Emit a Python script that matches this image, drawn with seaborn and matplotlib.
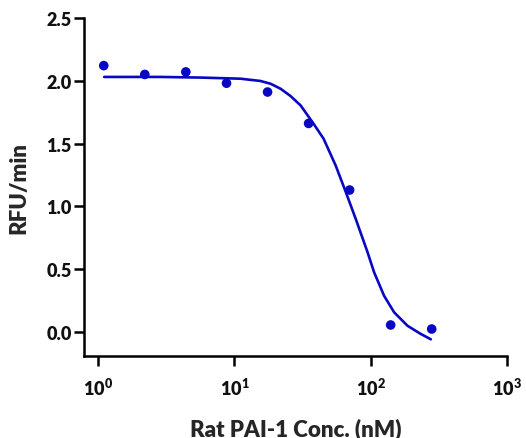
import matplotlib
matplotlib.use('Agg')
import matplotlib.pyplot as plt
import matplotlib.ticker as mticker
import seaborn as sns

# measured points
conc_nM = [1.1, 2.2, 4.4, 8.75, 17.5, 35, 70, 140, 280]
rfu_min = [2.12, 2.05, 2.07, 1.98, 1.91, 1.66, 1.13, 0.056, 0.024]

# fitted curve
fit_conc = [1.107, 2.86, 5.62, 11.07, 15.5, 18.5, 21.8, 25.8, 30.6, 38.1, 45.1, 55.3,
            65.5, 77.6, 94.6, 105.8, 125.2, 148.4, 186, 230, 276]
fit_rfu = [2.03, 2.03, 2.025, 2.016, 1.998, 1.975, 1.936, 1.878, 1.803, 1.657, 1.538, 1.325,
           1.116, 0.900, 0.637, 0.476, 0.289, 0.157, 0.050, -0.012, -0.058]

x_ticks = [1, 10, 100, 1000]
y_ticks = [0.0, 0.5, 1.0, 1.5, 2.0, 2.5]

BLUE = "#0808C4"

sns.set_theme(style="white")
plt.rcParams.update({
    "font.family": ["Lato", "DejaVu Sans"],
    "font.weight": "heavy",
    "axes.labelweight": "heavy",
    "mathtext.fontset": "custom",
    "mathtext.rm": "Lato:heavy",
    "mathtext.bf": "Lato:heavy",
    "mathtext.it": "Lato:heavy",
    "mathtext.default": "rm",
    "xtick.bottom": True,
    "ytick.left": True,
})

fig = plt.figure(figsize=(5.26, 4.39), dpi=100)
ax = fig.add_axes([0.160, 0.187, 0.804, 0.770])
ax.set_xscale("log")

sns.lineplot(x=fit_conc, y=fit_rfu, ax=ax, color=BLUE, linewidth=1.9)
sns.scatterplot(x=conc_nM, y=rfu_min, ax=ax, color=BLUE, s=48, edgecolor="none")

ax.set_xlim(0.79, 1000)
ax.set_ylim(-0.19, 2.5)
ax.set_xticks(x_ticks)
ax.xaxis.set_minor_locator(mticker.NullLocator())
ax.xaxis.set_major_formatter(mticker.LogFormatterSciNotation())
ax.set_yticks(y_ticks)
ax.set_yticklabels([f"{v:.1f}" for v in y_ticks])

for side in ["top", "right"]:
    ax.spines[side].set_visible(False)
for side in ["left", "bottom"]:
    ax.spines[side].set_linewidth(1.8)
    ax.spines[side].set_color("black")

ax.tick_params(axis="both", which="major", direction="out", length=7, width=1.8,
               color="black", labelsize=13, labelcolor="#111111", pad=2)
ax.tick_params(axis="x", pad=8)

ax.set_xlabel("Rat PAI-1 Conc. (nM)", fontsize=16, fontweight="heavy", labelpad=14)
ax.set_ylabel("RFU/min", fontsize=16, fontweight="heavy", labelpad=12)

fig.savefig("out.png", dpi=100)
